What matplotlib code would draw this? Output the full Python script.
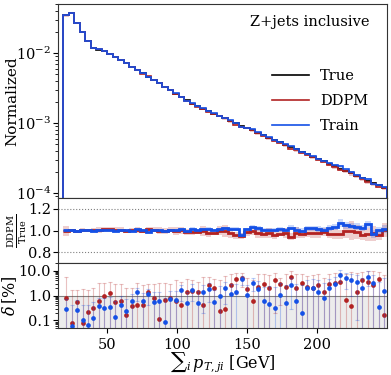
import numpy as np
from matplotlib import pyplot as plt

plt.rcParams['font.family'] = 'DejaVu Serif'
plt.rcParams['mathtext.fontset'] = 'dejavuserif'

# binning of sum pT (GeV)
xlo, xhi, nbins = 18.8, 250.0, 59
xlim = (15, 250)

# True histogram (normalized)
true_vals = [0.0349, 0.0369, 0.0271, 0.0201, 0.0150, 0.0119, 0.0112, 0.0105, 0.0097, 0.0088,
             0.0079, 0.0071, 0.00633, 0.00568, 0.00510, 0.00457, 0.00411, 0.00371, 0.00330, 0.00295,
             0.00263, 0.00234, 0.00210, 0.00187, 0.00173, 0.00160, 0.00148, 0.00136, 0.00126, 0.00117,
             0.00108, 0.000997, 0.000921, 0.000851, 0.000787, 0.000727, 0.000672, 0.000621, 0.000574, 0.000532,
             0.000491, 0.000454, 0.000420, 0.000388, 0.000358, 0.000331, 0.000306, 0.000283, 0.000261, 0.000242,
             0.000224, 0.000207, 0.000191, 0.000177, 0.000163, 0.000151, 0.000139, 0.000129, 0.000119]

# signed deviation from True in percent
ddpm_dev = [-0.83, 0.08, -0.54, 0.08, 0.21, 0.33, 0.63, 1.0, 1.27, 0.54,
            0.63, -0.16, 0.38, 0.40, -0.42, 1.38, 0.80, -0.12, -0.66, 0.83,
            -0.58, 0.40, -1.39, -1.45, -1.40, -0.42, -2.58, -2.0, -0.23, -0.28,
            -2.65, -4.5, -5.0, -1.84, -0.59, -2.2, -2.9, -2.09, -4.0, -2.83,
            -2.2, -5.75, -2.09, -3.1, -2.2, -2.09, -2.65, -1.39, -2.83, -3.3,
            -3.5, -0.67, -0.37, -1.36, -4.1, -3.63, -2.65, -4.5, 0.17]
train_dev = [0.28, 0.061, -0.27, 0.10, 0.067, -0.13, 0.38, 0.33, 0.35, -0.14,
             0.40, 0.25, -0.59, 1.32, 0.61, -1.1, 0.575, 0.63, -0.091, 0.71,
             0.67, 1.63, -0.51, 1.7, 0.49, 1.4, 1.84, 0.555, 0.97, 1.96,
             1.2, 1.39, -4.4, 1.06, 3.3, 1.9, 0.59, 0.46, 0.33, 1.06,
             0.52, 2.58, 0.61, -0.196, 1.96, 1.96, 1.39, 0.78, 2.09, 2.83,
             6.9, 4.8, 4.1, 3.4, 2.09, 5.75, -3.3, 0.35, 1.53]

# uncertainties in percent
ddpm_err = [4.6, 1.6, 1.1, 1.8, 1.5, 1.7, 2.5, 2.3, 2.3, 2.3,
            2.2, 1.9, 1.7, 2.9, 2.2, 1.4, 2.0, 3.0, 2.6, 2.0,
            3.6, 3.2, 3.1, 2.6, 2.2, 5.0, 3.1, 2.5, 4.0, 5.5,
            4.4, 3.3, 2.8, 3.1, 3.6, 4.9, 4.2, 4.6, 3.8, 2.4,
            4.9, 3.4, 5.0, 4.0, 4.1, 4.6, 4.5, 3.5, 4.3, 4.5,
            4.3, 6.4, 8.7, 6.4, 5.0, 6.1, 7.0, 4.6, 6.5]
train_err = [0.45, 0.35, 0.4, 0.3, 0.35, 0.4, 0.45, 0.5, 0.5, 0.45,
             0.55, 0.5, 0.6, 0.7, 0.6, 0.7, 0.75, 0.8, 0.7, 0.8,
             0.9, 1.0, 0.9, 1.1, 1.0, 1.2, 1.3, 1.1, 1.4, 1.5,
             1.6, 1.5, 1.7, 1.6, 1.8, 1.9, 1.7, 2.0, 1.9, 2.1,
             2.0, 2.3, 2.2, 2.4, 2.3, 2.5, 2.6, 2.4, 2.7, 2.8,
             3.4, 3.0, 3.1, 3.3, 3.0, 3.4, 3.5, 3.2, 3.6]

c_true, c_ddpm, c_train = 'black', '#b22222', '#1450e6'
fs = 10.5

edges = np.linspace(xlo, xhi, nbins + 1)
centers = 0.5 * (edges[1:] + edges[:-1])
true_vals = np.array(true_vals)
r_ddpm = 1 + np.array(ddpm_dev) / 100
r_train = 1 + np.array(train_dev) / 100
e_ddpm = np.array(ddpm_err) / 100
e_train = np.array(train_err) / 100

fig = plt.figure(figsize=(3.91, 3.75), dpi=100)
L, W = 58 / 391, 329 / 391
ax1 = fig.add_axes([L, 1 - 198 / 375, W, 194 / 375])
ax2 = fig.add_axes([L, 1 - 263 / 375, W, 65 / 375], sharex=ax1)
ax3 = fig.add_axes([L, 1 - 328 / 375, W, 65 / 375], sharex=ax1)

# main panel
for r, e, c in [(r_ddpm, e_ddpm, c_ddpm), (r_train, e_train, c_train)]:
    h = true_vals * r
    ax1.stairs(h * (1 + e), edges, baseline=h * (1 - e), fill=True, color=c, alpha=0.25, lw=0)
ax1.stairs(true_vals, edges, baseline=1e-9, color=c_true, lw=1.2, label='True')
ax1.stairs(true_vals * r_ddpm, edges, baseline=1e-9, color=c_ddpm, lw=1.2, label='DDPM')
ax1.stairs(true_vals * r_train, edges, baseline=1e-9, color=c_train, lw=1.2, label='Train')
ax1.set_yscale('log')
ax1.set_ylim(8.5e-5, 0.05)
ax1.set_xlim(*xlim)
ax1.set_ylabel('Normalized', fontsize=fs + 0.5)
ax1.yaxis.set_label_coords(-0.118, 0.5)
ax1.tick_params(labelbottom=False, labelsize=fs)
ax1.text(0.948, 0.907, 'Z+jets inclusive', transform=ax1.transAxes, ha='right', va='center', fontsize=fs)
ax1.legend(loc='center left', bbox_to_anchor=(0.611, 0.5), frameon=False, fontsize=fs,
           handlelength=2.5, handletextpad=0.8, labelspacing=0.78, borderpad=0.4)

# ratio panel
ax2.axhline(1.2, color='gray', ls=':', lw=0.8)
ax2.axhline(0.8, color='gray', ls=':', lw=0.8)
for r, e, c in [(r_ddpm, e_ddpm, c_ddpm), (r_train, e_train, c_train)]:
    ax2.stairs(r + e, edges, baseline=r - e, fill=True, color=c, alpha=0.22, lw=0)
    ax2.stairs(r, edges, baseline=None, color=c, lw=2)
ax2.set_ylim(0.7, 1.3)
ax2.set_yticks([0.8, 1.0, 1.2], ['0.8', '1.0', '1.2'])
ax2.set_ylabel(r'$\frac{\mathrm{DDPM}}{\mathrm{True}}$', fontsize=10)
ax2.yaxis.set_label_coords(-0.088, 0.5)
ax2.tick_params(labelbottom=False, labelsize=fs)

# delta panel
ax3.axhspan(0.01, 1.0, color='#ececec', lw=0)
ax3.axhline(1.0, color='gray', lw=0.8)
for r, e, c in [(r_ddpm, e_ddpm, c_ddpm), (r_train, e_train, c_train)]:
    d = np.abs(r - 1) * 100
    ax3.errorbar(centers, d, yerr=e * 100, fmt='none', ecolor=c, elinewidth=0.8,
                 capsize=1.5, capthick=0.8, alpha=0.28)
    ax3.plot(centers, d, 'o', ms=3.4, color=c, mew=0)
ax3.set_yscale('log')
ax3.set_ylim(0.05, 20)
ax3.set_yticks([0.1, 1, 10], ['0.1', '1.0', '10.0'])
ax3.set_ylabel(r'$\delta\,[\%]$', fontsize=fs + 1)
ax3.yaxis.set_label_coords(-0.118, 0.5)
ax3.set_xlabel(r'$\sum{}_i\, p_{T,ji}$ [GeV]', fontsize=fs + 1, labelpad=-1.5)
ax3.set_xticks([50, 100, 150, 200])
ax3.tick_params(labelsize=fs)
ax3.set_xlim(*xlim)

for ax in (ax1, ax2, ax3):
    ax.tick_params(axis='y', which='major', length=3.5, pad=1.5)
    ax.tick_params(axis='y', which='minor', length=2)
    for s in ax.spines.values():
        s.set_color('#333333')

fig.savefig('out.png', dpi=100)
